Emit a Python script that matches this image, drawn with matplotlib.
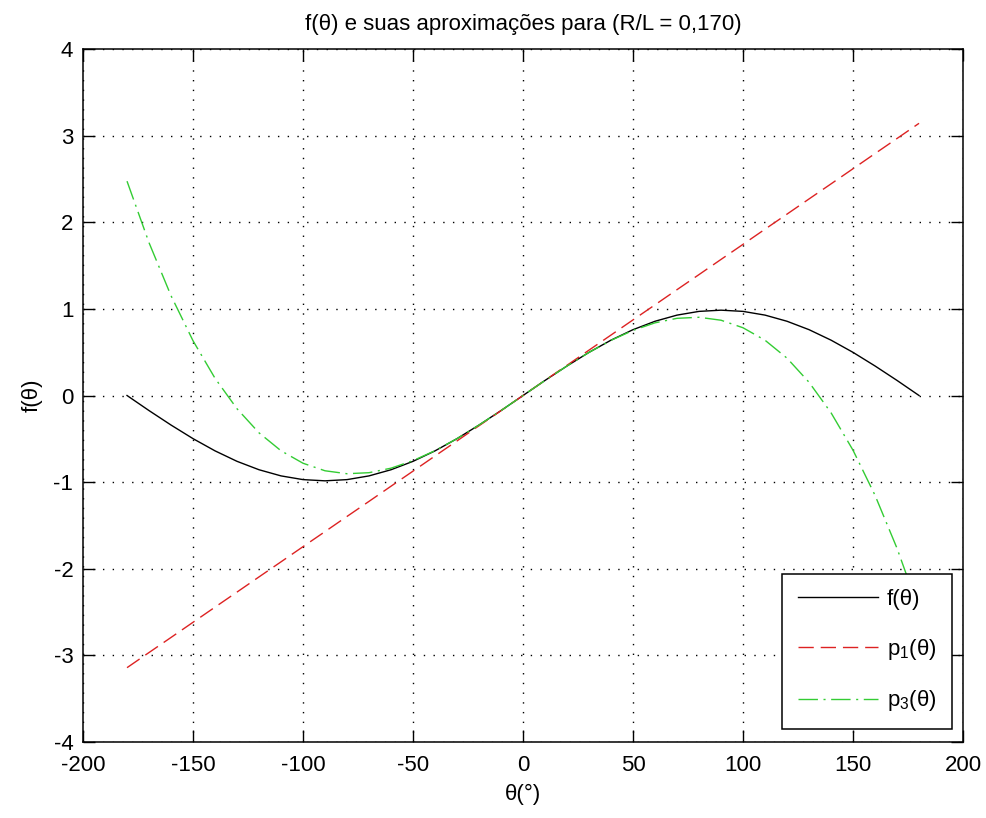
"""f(theta) and its Taylor approximations p1, p3 for R/L = 0.170."""
import matplotlib
matplotlib.use("Agg")
import matplotlib.pyplot as plt

# crank angle (degrees)
theta = [-180, -170, -160, -150, -140, -130, -120, -110, -100, -90,
         -80, -70, -60, -50, -40, -30, -20, -10, 0,
         10, 20, 30, 40, 50, 60, 70, 80, 90,
         100, 110, 120, 130, 140, 150, 160, 170, 180]

f_vals = [0.0, -0.174, -0.341, -0.498, -0.639, -0.760, -0.857, -0.928, -0.971, -0.985,
          -0.971, -0.928, -0.857, -0.760, -0.639, -0.498, -0.341, -0.174, 0.0,
          0.174, 0.341, 0.498, 0.639, 0.760, 0.857, 0.928, 0.971, 0.985,
          0.971, 0.928, 0.857, 0.760, 0.639, 0.498, 0.341, 0.174, 0.0]

p1_vals = [-3.142, -2.967, -2.793, -2.618, -2.443, -2.269, -2.094, -1.920, -1.745, -1.571,
           -1.396, -1.222, -1.047, -0.873, -0.698, -0.524, -0.349, -0.175, 0.0,
           0.175, 0.349, 0.524, 0.698, 0.873, 1.047, 1.222, 1.396, 1.571,
           1.745, 1.920, 2.094, 2.269, 2.443, 2.618, 2.793, 2.967, 3.142]

p3_vals = [2.474, 1.764, 1.152, 0.632, 0.199, -0.153, -0.431, -0.638, -0.782, -0.869,
           -0.903, -0.891, -0.839, -0.752, -0.637, -0.498, -0.341, -0.174, 0.0,
           0.174, 0.341, 0.498, 0.637, 0.752, 0.839, 0.891, 0.903, 0.869,
           0.782, 0.638, 0.431, 0.153, -0.199, -0.632, -1.152, -1.764, -2.474]

xticks = [-200, -150, -100, -50, 0, 50, 100, 150, 200]
yticks = [-4, -3, -2, -1, 0, 1, 2, 3, 4]

plt.rcParams["font.family"] = ["Liberation Sans", "DejaVu Sans"]
plt.rcParams["mathtext.default"] = "regular"
plt.rcParams["axes.unicode_minus"] = False
FS = 16

fig = plt.figure(figsize=(9.86, 8.18), dpi=100)
ax = fig.add_axes([0.0842, 0.0929, 0.8925, 0.8472])

ax.plot(theta, f_vals, color="k", lw=1.0, label="f(θ)")
ax.plot(theta, p1_vals, color="#dd2222", lw=1.0, dashes=(11, 5), label="p$_1$(θ)")
ax.plot(theta, p3_vals, color="#33cc33", lw=1.0, dashes=(14, 4, 1.5, 4), label="p$_3$(θ)")

ax.set_xlim(-200, 200)
ax.set_ylim(-4, 4)
ax.set_xticks(xticks)
ax.set_yticks(yticks)
ax.tick_params(direction="in", length=8.5, width=1.0, top=True, right=True,
               labelsize=FS, pad=7)
ax.tick_params(axis="x", pad=9)
ax.grid(True, color="k", linestyle=(0, (1, 6)), linewidth=1.0)
for s in ax.spines.values():
    s.set_linewidth(1.1)

ax.set_title("f(θ) e suas aproximações para (R/L = 0,170)", fontsize=FS, pad=14)
ax.set_xlabel("θ(°)", fontsize=FS, labelpad=6)
ax.set_ylabel("f(θ)", fontsize=FS, labelpad=8)

leg = ax.legend(loc="lower right", bbox_to_anchor=(0.9875, 0.0188), borderaxespad=0,
                fontsize=FS, fancybox=False, framealpha=1, edgecolor="k",
                handlelength=3.6, handletextpad=0.4, labelspacing=1.2, borderpad=0.7)
leg.get_frame().set_linewidth(1.1)

fig.savefig("out.png", dpi=100)
